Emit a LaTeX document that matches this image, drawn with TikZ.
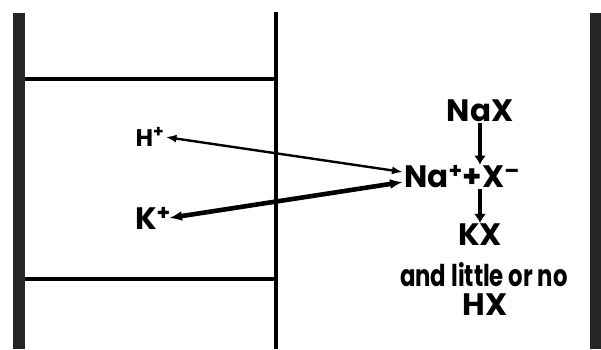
\documentclass[tikz,border=0pt]{standalone}
\usepackage{fontspec}
\setmainfont{Poppins}
\newfontfamily\narrowfont{Poppins}[FakeStretch=0.76]
\usetikzlibrary{arrows.meta}

\begin{document}
\begin{tikzpicture}[
  x=1pt, y=-1pt,
  every node/.style = {inner sep=1pt, font=\fontsize{31}{33}\selectfont\bfseries},
  small/.style = {font=\fontsize{24}{26}\selectfont\bfseries},
  narrow/.style = {font=\fontsize{30}{32}\selectfont\narrowfont\bfseries},
  wall/.style = {fill=black!85},
  film/.style = {line width=3.4pt},
  hswap/.style = {{Latex[length=11pt,width=8pt]}-{Latex[length=11pt,width=8pt]}, line width=2.4pt},
  kswap/.style = {{Latex[length=13pt,width=10pt]}-{Latex[length=13pt,width=10pt]}, line width=4.6pt},
  down/.style = {-{Latex[length=9pt,width=12pt]}, line width=3.8pt}
]
  \useasboundingbox (0,0) rectangle (601,349);

  % walls and films
  \fill[wall] (13,13) rectangle (25,349);
  \fill[wall] (590,13) rectangle (602,349);
  \draw[film] (276,12) -- (276,349);
  \draw[film] (25,79) -- (276,79);
  \draw[film] (25,279) -- (276,279);

  % ions
  \node[small] (h) at (150,137) {H\textsuperscript{+}};
  \node (k) at (153,218) {K\textsuperscript{+}};

  % solution side
  \node (nax) at (480,111) {NaX};
  \node (na) at (462,177) {Na\textsuperscript{+}+X\textsuperscript{–}};
  \node (kx) at (480,235) {KX};
  \node[narrow] (little) at (484,275) {and little or no};
  \node (hx) at (485,305) {HX};

  \draw[hswap] (h.east) -- ([yshift=5pt]na.west);
  \draw[kswap] ([xshift=-3pt]k.east) -- ([yshift=-5pt]na.west);
  \draw[down] (nax.south) -- (nax.south |- na.north);
  \draw[down] (nax.south |- na.south) -- (nax.south |- kx.north);
\end{tikzpicture}
\end{document}
